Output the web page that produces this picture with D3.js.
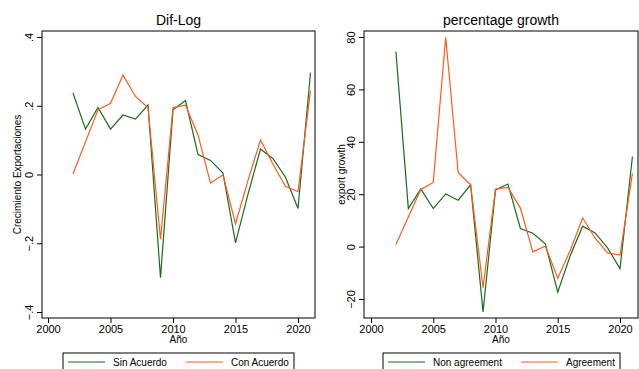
<!DOCTYPE html>
<html>
<head>
<meta charset="utf-8">
<script src="https://cdn.jsdelivr.net/npm/d3@7"></script>
<style>
  body { margin: 0; background: #fff; }
  text { font-family: "Liberation Sans", Arial, sans-serif; fill: #000; }
</style>
</head>
<body>
<script>
// years
var years = [2002,2003,2004,2005,2006,2007,2008,2009,2010,2011,2012,2013,2014,2015,2016,2017,2018,2019,2020,2021];
// dif-log
var sinAcuerdo = [0.237,0.132,0.195,0.132,0.173,0.161,0.202,-0.300,0.188,0.215,0.058,0.041,0.004,-0.199,-0.057,0.074,0.046,-0.008,-0.099,0.296];
var conAcuerdo = [0.002,0.095,0.188,0.207,0.289,0.227,0.195,-0.189,0.195,0.202,0.115,-0.025,-0.001,-0.143,-0.017,0.100,0.030,-0.034,-0.050,0.244];
// percentage growth
var nonAgreement = [74.4,14.5,22.0,14.5,20.1,17.7,23.6,-24.9,21.6,23.9,6.9,5.1,1.1,-17.4,-3.5,7.8,5.2,-0.5,-8.4,34.4];
var agreement = [0.8,11.3,21.8,24.5,79.9,28.3,23.6,-15.7,22.0,22.6,14.7,-2.0,0.2,-12.1,-1.5,10.9,3.3,-2.4,-3.2,28.0];

var xTicks = [2000,2005,2010,2015,2020];

var green = "#1b6b1b", orange = "#ff5a1f";

var svg = d3.select("body").append("svg")
    .attr("width", 639)
    .attr("height", 369);

function panel(opt) {
  var g = svg.append("g");
  var x = d3.scaleLinear().domain([2000, 2020]).range(opt.xr);
  var y = d3.scaleLinear().domain(opt.yd).range(opt.yr);

  // plot box
  g.append("rect")
    .attr("x", opt.box[0]).attr("y", opt.box[1])
    .attr("width", opt.box[2] - opt.box[0]).attr("height", opt.box[3] - opt.box[1])
    .attr("fill", "none").attr("stroke", "#000").attr("stroke-width", 1);

  // y axis, labels turned like stata does
  var ya = g.append("g")
    .attr("transform", "translate(" + opt.box[0] + ",0)")
    .call(d3.axisLeft(y).tickValues(opt.yTicks).tickSize(5).tickFormat(opt.yFmt));
  ya.select(".domain").remove();
  ya.selectAll("text")
    .attr("x", -9).attr("y", 0).attr("dy", "0")
    .attr("transform", "rotate(-90,-9,0)")
    .attr("text-anchor", "middle")
    .attr("font-size", 11).style("font-family", "Liberation Sans, Arial, sans-serif");

  // x axis
  var xa = g.append("g")
    .attr("transform", "translate(0," + opt.box[3] + ")")
    .call(d3.axisBottom(x).tickValues(xTicks).tickSize(5).tickFormat(d3.format("d")));
  xa.select(".domain").remove();
  xa.selectAll("text").attr("font-size", 11).attr("y", 7)
    .style("font-family", "Liberation Sans, Arial, sans-serif");

  g.append("text")
    .attr("x", (opt.box[0] + opt.box[2]) / 2).attr("y", 343)
    .attr("text-anchor", "middle").attr("font-size", 10).text("Año");

  g.append("text")
    .attr("transform", "translate(" + opt.yTitleX + "," + ((opt.box[1] + opt.box[3]) / 2) + ") rotate(-90)")
    .attr("text-anchor", "middle").attr("font-size", 10).text(opt.yTitle);

  g.append("text")
    .attr("x", (opt.box[0] + opt.box[2]) / 2).attr("y", 25)
    .attr("text-anchor", "middle").attr("font-size", 14).text(opt.title);

  var line = d3.line().x(function(d, i){ return x(years[i]); }).y(function(d){ return y(d); });
  g.append("path").datum(opt.s1).attr("d", line)
    .attr("fill", "none").attr("stroke", green).attr("stroke-width", 1.2);
  g.append("path").datum(opt.s2).attr("d", line)
    .attr("fill", "none").attr("stroke", orange).attr("stroke-width", 1.2);

  // legend
  var L = opt.leg;
  g.append("rect").attr("x", L.x0).attr("y", 353).attr("width", L.x1 - L.x0).attr("height", 30)
    .attr("fill", "#fff").attr("stroke", "#000").attr("stroke-width", 1);
  [[L.a, green, opt.n1], [L.b, orange, opt.n2]].forEach(function(e){
    g.append("line").attr("x1", e[0]).attr("x2", e[0] + 37).attr("y1", 362).attr("y2", 362)
      .attr("stroke", e[1]).attr("stroke-width", 1.2);
    g.append("text").attr("x", e[0] + 45).attr("y", 366).attr("font-size", 10).text(e[2]);
  });
}

panel({
  box: [42, 31, 315, 318], xr: [48, 298], yd: [-0.4, 0.4], yr: [312, 37],
  yTicks: [-0.4, -0.2, 0, 0.2, 0.4],
  yFmt: function(d){ return d === 0 ? "0" : d3.format(".1f")(d).replace("0.", "."); },
  title: "Dif-Log", yTitle: "Crecimiento Exportaciones", yTitleX: 21,
  s1: sinAcuerdo, s2: conAcuerdo, n1: "Sin Acuerdo", n2: "Con Acuerdo",
  leg: { x0: 63, x1: 294, a: 68, b: 186 }
});

panel({
  box: [364, 31, 638, 318], xr: [371, 620], yd: [-20, 80], yr: [299, 37],
  yTicks: [-20, 0, 20, 40, 60, 80],
  yFmt: d3.format("d"),
  title: "percentage growth", yTitle: "export growth", yTitleX: 345,
  s1: nonAgreement, s2: agreement, n1: "Non agreement", n2: "Agreement",
  leg: { x0: 383, x1: 620, a: 388, b: 521 }
});
</script>
</body>
</html>
